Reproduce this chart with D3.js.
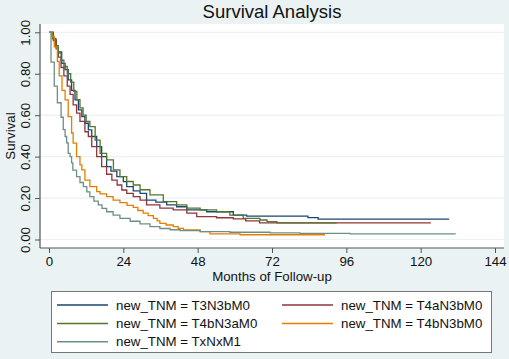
<!DOCTYPE html>
<html>
<head>
<meta charset="utf-8">
<script src="https://cdn.jsdelivr.net/npm/d3@7"></script>
<style>
  body { margin: 0; background: #eaf2f3; }
  svg { display: block; font-family: "Liberation Sans", Arial, sans-serif; }
</style>
</head>
<body>
<div class="canvas"></div>
<script>
// data: [month, survival] step points
const seriesNames = ['T3N3bM0', 'T4aN3bM0', 'T4bN3aM0', 'T4bN3bM0', 'TxNxM1']

const t3n3bm0 = [[0,1],[1.4,0.967],[2.3,0.93],[3.0,0.905],[4.1,0.85],[5.2,0.82],[6.2,0.77],[7.3,0.72],
  [8.4,0.674],[9.5,0.626],[10.6,0.593],[11.6,0.561],[12.7,0.529],[13.8,0.497],[15.4,0.448],[17.0,0.40],
  [18.6,0.352],[20.0,0.33],[21.9,0.303],[24.0,0.279],[25.1,0.255],[27.2,0.235],[29.4,0.223],[31.5,0.19],
  [34.5,0.18],[38.0,0.167],[41.2,0.158],[44.5,0.143],[50.9,0.134],[59.5,0.118],[63.8,0.113],[83.6,0.106],
  [86.9,0.098],[129.2,0.098]]

const t4an3bm0 = [[0,1],[1.4,0.96],[2.3,0.92],[3.0,0.88],[3.9,0.83],[4.8,0.79],[5.9,0.74],[6.8,0.70],
  [7.8,0.65],[8.9,0.61],[10.0,0.57],[11.6,0.52],[12.7,0.497],[13.8,0.448],[15.4,0.40],[17.0,0.352],
  [18.6,0.315],[20.3,0.287],[22.0,0.263],[23.5,0.239],[25.1,0.223],[27.2,0.207],[29.4,0.19],[31.5,0.167],
  [35.8,0.151],[40.1,0.143],[44.5,0.127],[47.7,0.11],[54.1,0.105],[59.5,0.1],[63.5,0.09],[68.0,0.08],
  [123.3,0.08]]

const t4bn3am0 = [[0,1],[1.2,0.97],[2.1,0.935],[3.0,0.9],[3.9,0.865],[4.8,0.835],[5.9,0.8],[7.0,0.76],
  [8.0,0.715],[9.0,0.675],[10.0,0.635],[11.0,0.6],[12.0,0.57],[13.2,0.545],[14.9,0.48],[16.5,0.416],
  [18.6,0.384],[20.8,0.336],[22.9,0.303],[25.1,0.28],[27.2,0.263],[29.4,0.24],[32.6,0.215],[36.9,0.183],
  [41.2,0.167],[44.5,0.151],[48.8,0.143],[54.1,0.134],[58.4,0.118],[62.7,0.102],[68.1,0.094],[70.4,0.086],
  [73.6,0.08],[92.9,0.08]]

const t4bn3bm0 = [[0,1],[0.9,0.98],[1.7,0.93],[2.7,0.86],[3.3,0.79],[4.2,0.72],[5.2,0.674],[6.2,0.593],
  [7.3,0.514],[7.8,0.465],[8.9,0.40],[10.0,0.36],[10.6,0.336],[11.6,0.287],[13.2,0.255],[15.4,0.231],
  [16.5,0.22],[18.6,0.207],[20.7,0.19],[22.9,0.178],[25.2,0.165],[27.2,0.155],[28.7,0.14],[30.4,0.127],
  [32.0,0.115],[33.7,0.102],[34.9,0.09],[35.8,0.078],[37.8,0.07],[40.1,0.062],[41.7,0.054],[43.4,0.046],
  [48.8,0.038],[52.0,0.027],[61.7,0.023],[89.1,0.023]]

const txnxm1 = [[0,1],[0.65,0.856],[1.7,0.74],[2.7,0.66],[3.9,0.59],[4.6,0.53],[5.2,0.497],[5.7,0.466],
  [6.2,0.416],[6.8,0.40],[7.3,0.37],[7.7,0.335],[8.9,0.303],[10.0,0.275],[11.1,0.255],[12.2,0.23],
  [13.2,0.207],[14.5,0.185],[15.9,0.167],[17.1,0.15],[18.6,0.134],[20.7,0.118],[22.9,0.102],[26.2,0.088],
  [29.4,0.075],[32.6,0.062],[35.8,0.053],[39.1,0.047],[42.3,0.043],[48.8,0.038],[58.4,0.035],[71.4,0.032],
  [81.0,0.03],[97.2,0.027],[131.3,0.027]]

const xTicks = [0, 24, 48, 72, 96, 120, 144]
const yTicks = [0, 0.2, 0.4, 0.6, 0.8, 1.0]

const seriesData = [t3n3bm0, t4an3bm0, t4bn3am0, t4bn3bm0, txnxm1]
const colors = ['#1a476f', '#90353b', '#55752f', '#e37e00', '#6e8e84']

const svgWidth = 509
const svgHeight = 359

// plot region (white box)
const plot = {left: 40, top: 24, right: 504, bottom: 248}

const svg = d3.select('.canvas')
    .append('svg')
    .attr('width', svgWidth)
    .attr('height', svgHeight)

svg.append('rect')
    .attr('width', svgWidth)
    .attr('height', svgHeight)
    .attr('fill', '#eaf2f3')

svg.append('rect')
    .attr('x', plot.left)
    .attr('y', plot.top)
    .attr('width', plot.right - plot.left)
    .attr('height', plot.bottom - plot.top)
    .attr('fill', '#fff')

// scales
const x = d3.scaleLinear().domain([0, 144]).range([49, 495])
const y = d3.scaleLinear().domain([0, 1]).range([239.5, 32.3])

// grid lines
svg.append('g')
    .selectAll('line')
    .data(yTicks)
    .enter()
    .append('line')
    .attr('x1', plot.left)
    .attr('x2', plot.right)
    .attr('y1', d => y(d))
    .attr('y2', d => y(d))
    .attr('stroke', '#eaf2f3')
    .attr('stroke-width', 1.2)

// axes
const yAxis = d3.axisLeft(y)
    .tickValues(yTicks)
    .tickSize(5)
    .tickFormat(d3.format('.2f'))

const xAxis = d3.axisBottom(x)
    .tickValues(xTicks)
    .tickSize(5)
    .tickPadding(4)

const yAxisGroup = svg.append('g')
    .attr('transform', `translate(${plot.left}, 0)`)
    .call(yAxis)

const xAxisGroup = svg.append('g')
    .attr('transform', `translate(0, ${plot.bottom})`)
    .call(xAxis)

yAxisGroup.select('.domain').remove()
xAxisGroup.select('.domain').remove()

yAxisGroup.selectAll('line').attr('stroke', '#555')
xAxisGroup.selectAll('line').attr('stroke', '#555')

// y tick labels are rotated in the reference
yAxisGroup.selectAll('text')
    .attr('x', 0)
    .attr('y', 0)
    .attr('dy', 0)
    .attr('transform', 'translate(-10, 0) rotate(-90)')
    .attr('text-anchor', 'middle')
    .attr('font-size', '13.3px')
    .attr('fill', '#111')
    .attr('font-family', 'Liberation Sans, Arial, sans-serif')

xAxisGroup.selectAll('text')
    .attr('font-size', '13.3px')
    .attr('fill', '#111')
    .attr('font-family', 'Liberation Sans, Arial, sans-serif')

// axis lines span the whole plot region
svg.append('line')
    .attr('x1', plot.left).attr('x2', plot.left)
    .attr('y1', plot.top).attr('y2', plot.bottom)
    .attr('stroke', '#555').attr('stroke-width', 1.2)
svg.append('line')
    .attr('x1', plot.left).attr('x2', plot.right)
    .attr('y1', plot.bottom).attr('y2', plot.bottom)
    .attr('stroke', '#555').attr('stroke-width', 1.2)

// KM step lines
const line = d3.line()
    .x(d => x(d[0]))
    .y(d => y(d[1]))
    .curve(d3.curveStepAfter)

svg.append('g')
    .selectAll('path')
    .data(seriesData)
    .enter()
    .append('path')
    .attr('d', line)
    .attr('fill', 'none')
    .attr('stroke', (d, i) => colors[i])
    .attr('stroke-width', 1.3)

// titles
svg.append('text')
    .text('Survival Analysis')
    .attr('x', (plot.left + plot.right) / 2)
    .attr('y', 18)
    .attr('text-anchor', 'middle')
    .attr('font-size', '18.5px')
    .attr('fill', '#111')

svg.append('text')
    .text('Months of Follow-up')
    .attr('x', (plot.left + plot.right) / 2)
    .attr('y', 281)
    .attr('text-anchor', 'middle')
    .attr('font-size', '13.3px')
    .attr('fill', '#111')

svg.append('text')
    .text('Survival')
    .attr('transform', `translate(15, ${(plot.top + plot.bottom) / 2}) rotate(-90)`)
    .attr('text-anchor', 'middle')
    .attr('font-size', '13.3px')
    .attr('fill', '#111')

// legend
const legend = svg.append('g')

legend.append('rect')
    .attr('x', 51.5)
    .attr('y', 291.5)
    .attr('width', 440)
    .attr('height', 61)
    .attr('fill', '#fff')
    .attr('stroke', '#777')
    .attr('stroke-width', 1)

const legendItems = legend.selectAll('.item')
    .data(seriesNames)
    .enter()
    .append('g')
    .attr('class', 'item')
    .attr('transform', (d, i) => `translate(${i % 2 === 0 ? 57 : 282}, ${305 + Math.floor(i / 2) * 18.4})`)

legendItems.append('line')
    .attr('x1', 0)
    .attr('x2', 51)
    .attr('stroke', (d, i) => colors[i])
    .attr('stroke-width', 1.5)

legendItems.append('text')
    .text(d => `new_TNM = ${d}`)
    .attr('x', 59)
    .attr('dy', '0.35em')
    .attr('font-size', '13.3px')
    .attr('fill', '#111')
</script>
</body>
</html>
